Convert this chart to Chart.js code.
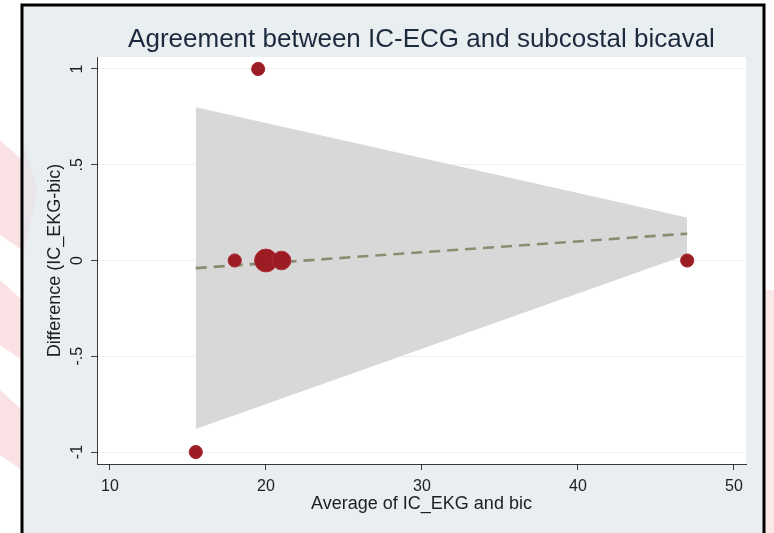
<!DOCTYPE html>
<html>
<head>
<meta charset="utf-8">
<script src="https://cdn.jsdelivr.net/npm/chart.js@4/dist/chart.umd.min.js"></script>
<style>
  html, body { margin: 0; padding: 0; background: #ffffff; }
  #wrap { width: 774px; height: 533px; }
</style>
</head>
<body>
<div id="wrap"><canvas id="c" width="774" height="533"></canvas></div>
<script>
// Bland-Altman style agreement plot: mean of the two methods vs. their difference
const avgValues   = [15.5, 18, 19.5, 20, 21, 47];
const diffValues  = [-1, 0, 1, 0, 0, 0];
const pointCounts = [1, 1, 1, 3, 2, 1];

// Regression of difference on average, with its confidence band
const fitX     = [15.5, 47];
const fitY     = [-0.04, 0.14];
const bandHigh = [0.80, 0.224];
const bandLow  = [-0.88, 0.03];

const xTicks = [10, 20, 30, 40, 50];
const yTicks = [-1, -0.5, 0, 0.5, 1];
const yTickLabels = ['-1', '-.5', '0', '.5', '1'];

const titleText  = 'Agreement between IC-ECG and subcostal bicaval';
const xAxisTitle = 'Average of IC_EKG and bic';
const yAxisTitle = 'Difference (IC_EKG-bic)';

const FONT = '"Liberation Sans", Arial, Helvetica, sans-serif';

const toPoints = (xs, ys) => xs.map((x, i) => ({ x: x, y: ys[i] }));

// Page backdrop, framed graph region and plot region
const backdrop = {
  id: 'backdrop',
  beforeDraw(chart) {
    const ctx = chart.ctx;
    const a = chart.chartArea;
    ctx.save();
    ctx.fillStyle = '#ffffff';
    ctx.fillRect(0, 0, chart.width, chart.height);

    // faint decorative shapes behind the frame
    ctx.fillStyle = 'rgba(226, 70, 80, 0.16)';
    ctx.beginPath();
    ctx.moveTo(0, 140); ctx.lineTo(22, 160); ctx.lineTo(22, 250); ctx.lineTo(0, 235);
    ctx.closePath(); ctx.fill();
    ctx.beginPath();
    ctx.moveTo(0, 280); ctx.lineTo(22, 300); ctx.lineTo(22, 360); ctx.lineTo(0, 345);
    ctx.closePath(); ctx.fill();
    ctx.beginPath();
    ctx.moveTo(0, 390); ctx.lineTo(22, 410); ctx.lineTo(22, 470); ctx.lineTo(0, 455);
    ctx.closePath(); ctx.fill();
    ctx.fillStyle = 'rgba(226, 90, 100, 0.14)';
    ctx.fillRect(764, 290, 10, 243);

    // graph region inside the frame
    ctx.fillStyle = '#e9eef1';
    ctx.fillRect(22, 5, 742, 528);
    ctx.fillStyle = 'rgba(226, 80, 90, 0.05)';
    ctx.beginPath();
    ctx.moveTo(22, 140); ctx.lineTo(38, 190); ctx.lineTo(22, 260);
    ctx.closePath(); ctx.fill();

    // frame
    ctx.strokeStyle = '#000000';
    ctx.lineWidth = 3;
    ctx.beginPath();
    ctx.moveTo(22, 540); ctx.lineTo(22, 5); ctx.lineTo(764, 5); ctx.lineTo(764, 540);
    ctx.stroke();

    // plot region
    ctx.fillStyle = '#ffffff';
    ctx.fillRect(a.left, a.top, a.right - a.left, a.bottom - a.top);

    // title, centred over the plot region
    ctx.fillStyle = '#1c2a3e';
    ctx.font = '26px ' + FONT;
    ctx.textAlign = 'center';
    ctx.textBaseline = 'middle';
    ctx.fillText(titleText, (a.left + a.right) / 2, 40);
    ctx.restore();
  }
};

const markerRadius = ctx => 6.6 * Math.sqrt(pointCounts[ctx.dataIndex] || 1);

new Chart(document.getElementById('c'), {
  type: 'scatter',
  data: {
    datasets: [
      {
        label: 'Observations',
        data: toPoints(avgValues, diffValues),
        backgroundColor: '#9c1c24',
        borderColor: '#ad2d36',
        borderWidth: 1,
        pointRadius: markerRadius,
        pointHoverRadius: markerRadius,
        order: 0
      },
      {
        label: 'Fitted values',
        type: 'line',
        data: toPoints(fitX, fitY),
        borderColor: '#8a8d70',
        borderWidth: 2.6,
        borderDash: [11, 7],
        pointRadius: 0,
        fill: false,
        order: 1
      },
      {
        label: 'Upper bound',
        type: 'line',
        data: toPoints(fitX, bandHigh),
        borderWidth: 0,
        borderColor: 'rgba(0,0,0,0)',
        pointRadius: 0,
        fill: false,
        order: 2
      },
      {
        label: 'Lower bound',
        type: 'line',
        data: toPoints(fitX, bandLow),
        borderWidth: 0,
        borderColor: 'rgba(0,0,0,0)',
        backgroundColor: '#d8d8d8',
        pointRadius: 0,
        fill: '-1',
        order: 3
      }
    ]
  },
  options: {
    responsive: false,
    animation: false,
    layout: { padding: { left: 22, right: 28, top: 57, bottom: 0 } },
    plugins: {
      legend: { display: false },
      tooltip: { enabled: false },
      title: { display: false }
    },
    scales: {
      x: {
        type: 'linear',
        min: 9.17,
        max: 50.77,
        afterBuildTicks: s => { s.ticks = xTicks.map(v => ({ value: v })); },
        afterFit: s => { s.height = 69; },
        grid: {
          drawOnChartArea: false,
          drawTicks: true,
          tickLength: 6,
          tickColor: '#3a3a3a',
          tickWidth: 1
        },
        border: { display: true, color: '#3a3a3a', width: 1 },
        ticks: {
          color: '#1e1e1e',
          font: { family: FONT, size: 16 },
          padding: 7,
          maxRotation: 0,
          minRotation: 0
        },
        title: {
          display: true,
          text: xAxisTitle,
          color: '#1e1e1e',
          font: { family: FONT, size: 18 },
          padding: { top: 0, bottom: 18 }
        }
      },
      y: {
        type: 'linear',
        min: -1.0625,
        max: 1.0625,
        afterBuildTicks: s => { s.ticks = yTicks.map(v => ({ value: v })); },
        afterFit: s => { s.width = 75; },
        grid: {
          drawOnChartArea: true,
          color: '#eef1f3',
          lineWidth: 1,
          drawTicks: true,
          tickLength: 6,
          tickColor: '#3a3a3a',
          tickWidth: 1
        },
        border: { display: true, color: '#3a3a3a', width: 1 },
        ticks: {
          color: '#1e1e1e',
          font: { family: FONT, size: 16 },
          padding: 4,
          minRotation: 90,
          maxRotation: 90,
          crossAlign: 'center',
          callback: v => {
            const i = yTicks.indexOf(v);
            return i >= 0 ? yTickLabels[i] : '';
          }
        },
        title: {
          display: true,
          text: yAxisTitle,
          color: '#1e1e1e',
          font: { family: FONT, size: 18 },
          padding: { top: 22, bottom: 0 }
        }
      }
    }
  },
  plugins: [backdrop]
});
</script>
</body>
</html>
